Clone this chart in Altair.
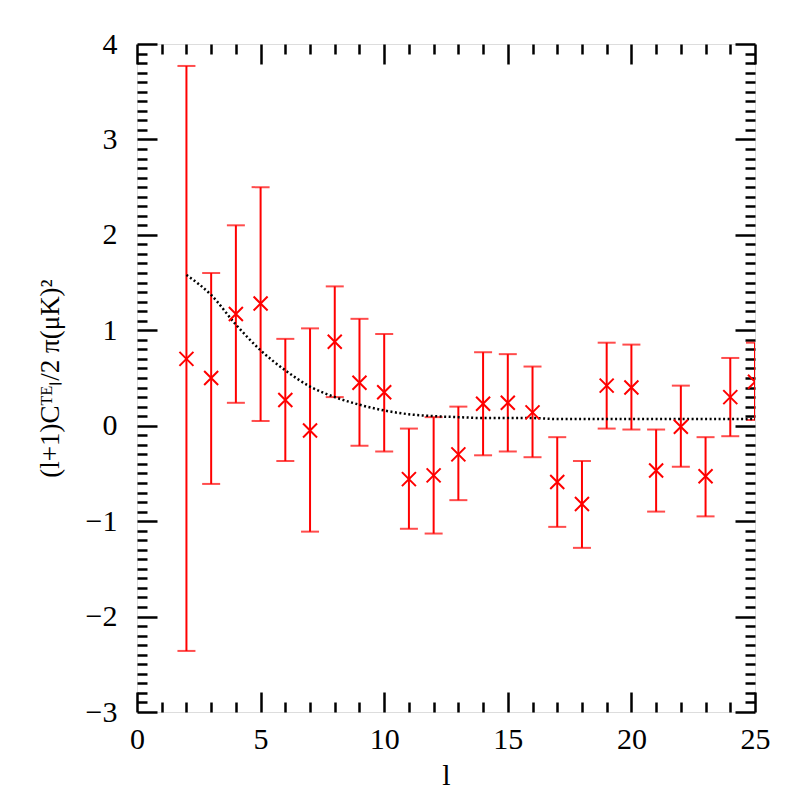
import altair as alt
import pandas as pd

ls = list(range(2, 26))
cl = [0.70, 0.50, 1.17, 1.28, 0.27, -0.05, 0.88, 0.45, 0.35, -0.56, -0.52, -0.30,
      0.23, 0.24, 0.14, -0.59, -0.82, 0.42, 0.40, -0.47, -0.01, -0.53, 0.30, 0.46]
hi = [3.77, 1.60, 2.10, 2.50, 0.91, 1.02, 1.46, 1.12, 0.96, -0.03, 0.09, 0.20,
      0.77, 0.75, 0.62, -0.12, -0.37, 0.87, 0.85, -0.04, 0.42, -0.12, 0.71, 0.87]
lo = [-2.36, -0.61, 0.24, 0.05, -0.37, -1.11, 0.30, -0.21, -0.27, -1.08, -1.13, -0.78,
      -0.31, -0.27, -0.33, -1.06, -1.28, -0.03, -0.04, -0.90, -0.43, -0.95, -0.11, 0.06]
theory = [1.58, 1.37, 1.06, 0.79, 0.58, 0.41, 0.30, 0.22, 0.16, 0.12, 0.10, 0.09,
          0.08, 0.08, 0.08, 0.07, 0.07, 0.07, 0.07, 0.07, 0.07, 0.07, 0.07, 0.07]

x_major = [0, 5, 10, 15, 20, 25]
x_minor = list(range(0, 26))
y_major = [-3, -2, -1, 0, 1, 2, 3, 4]
y_minor = [round(-3 + 0.1 * i, 1) for i in range(71)]

df = pd.DataFrame({"l": ls, "cl": cl, "hi": hi, "lo": lo, "th": theory})

W, H = 618, 668
FONT = "Liberation Serif"
xs = alt.Scale(domain=[0, 25], nice=False, zero=False)
ys = alt.Scale(domain=[-3, 4], nice=False, zero=False)

x_tick_size = {"condition": {"test": "datum.value % 5 === 0", "value": 20}, "value": 10}
y_tick_size = {"condition": {"test": "abs(datum.value - round(datum.value)) < 1e-6", "value": 20}, "value": 10}

def tick_axis(orient, offset, values, size):
    return alt.Axis(orient=orient, offset=offset, values=values, labels=False, domain=False,
                    grid=False, title=None, ticks=True, tickSize=size, tickWidth=2.5,
                    tickColor="black")

red = "#ff0000"

bars = alt.Chart(df).mark_rule(color=red, strokeWidth=2, clip=True).encode(
    x=alt.X("l:Q", scale=xs, axis=alt.Axis(
        orient="bottom", values=x_major, ticks=False, domain=False, grid=False,
        labelFlush=False, labelFont=FONT, labelFontSize=30, labelColor="black",
        labelPadding=12,
        title="l", titleFont=FONT, titleFontSize=30, titleFontWeight="normal",
        titleColor="black", titleBaseline="middle", titleY=63)),
    y=alt.Y("lo:Q", scale=ys, axis=alt.Axis(
        orient="left", values=y_major, ticks=False, domain=False, grid=False,
        labelFlush=False, labelFont=FONT, labelFontSize=30, labelColor="black",
        labelPadding=20,
        title="(l+1)Cᵀᴱₗ/2 π(μK)²", titleFont=FONT, titleFontSize=27,
        titleFontWeight="normal", titleColor="black", titleAngle=-90,
        titleAlign="center", titleBaseline="middle", titleX=-87, titleY=H / 2)),
    y2="hi:Q",
)

caps_hi = alt.Chart(df).mark_tick(color=red, orient="horizontal", size=18, thickness=2, clip=True).encode(
    x=alt.X("l:Q", scale=xs, axis=tick_axis("top", -H, x_minor, x_tick_size)),
    y=alt.Y("hi:Q", scale=ys, axis=tick_axis("right", -W, y_minor, y_tick_size)),
)

caps_lo = alt.Chart(df).mark_tick(color=red, orient="horizontal", size=18, thickness=2, clip=True).encode(
    x=alt.X("l:Q", scale=xs, axis=tick_axis("bottom", -H, x_minor, x_tick_size)),
    y=alt.Y("lo:Q", scale=ys, axis=tick_axis("left", -W, y_minor, y_tick_size)),
)

points = alt.Chart(df).mark_point(
    shape="M-1,-1L1,1M-1,1L1,-1", filled=False, stroke=red, strokeWidth=2,
    size=196, opacity=1, clip=True).encode(
    x=alt.X("l:Q", scale=xs, axis=None),
    y=alt.Y("cl:Q", scale=ys, axis=None),
)

line = alt.Chart(df).mark_line(color="black", strokeWidth=2.5, strokeDash=[2, 2.5],
                               interpolate="monotone", clip=True).encode(
    x=alt.X("l:Q", scale=xs, axis=None),
    y=alt.Y("th:Q", scale=ys, axis=None),
)

chart = alt.layer(bars, caps_hi, caps_lo, line, points).resolve_axis(
    x="independent", y="independent"
).properties(
    width=W, height=H,
    autosize=alt.AutoSizeParams(type="none"),
    padding={"left": 129, "top": 36, "right": 20, "bottom": 80},
).configure_view(stroke="black", strokeWidth=3).configure(background="white")

chart.save("out.html", embed_options={"renderer": "svg", "actions": False})
